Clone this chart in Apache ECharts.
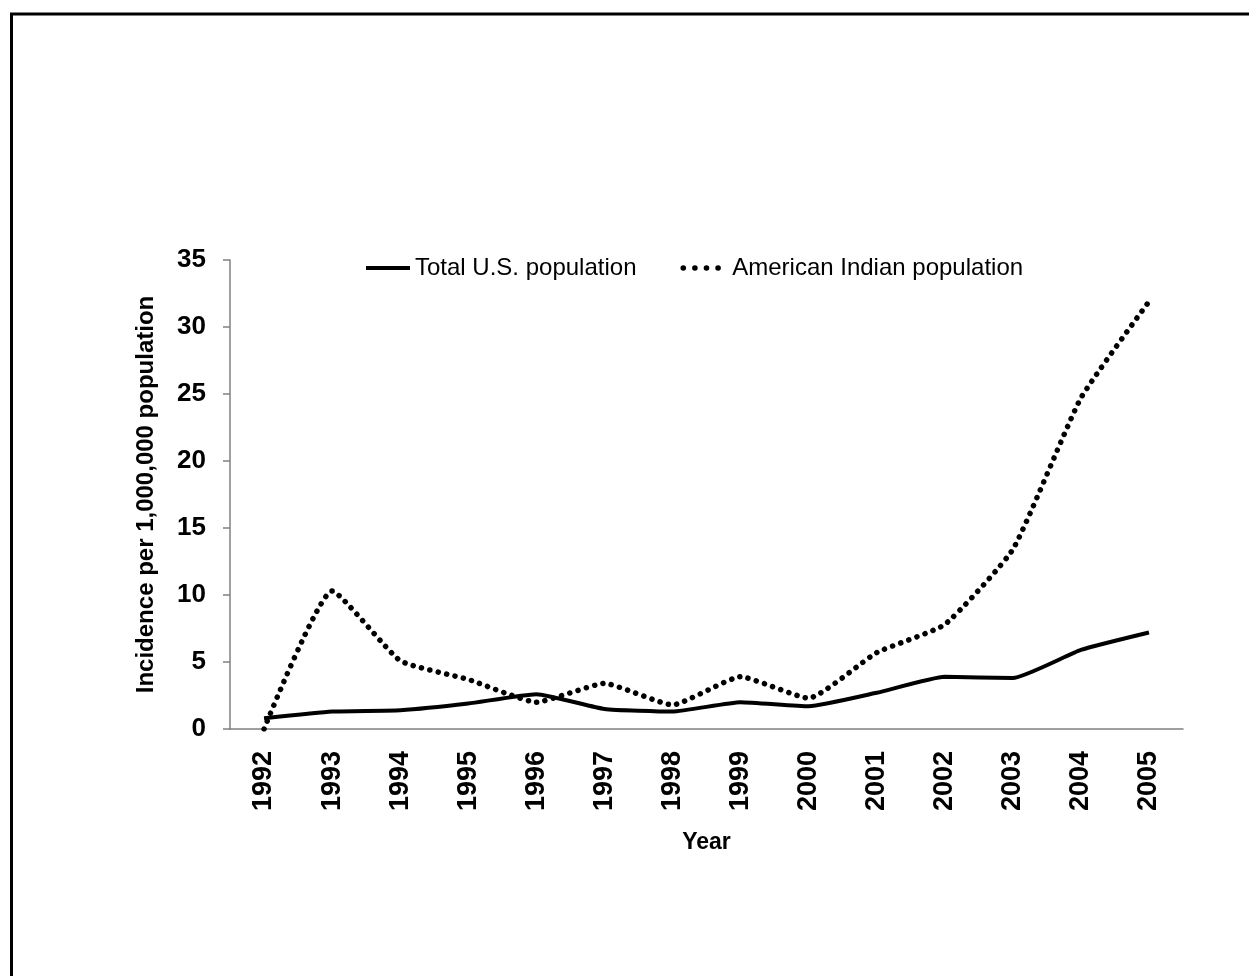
<!DOCTYPE html>
<html>
<head>
<meta charset="utf-8">
<script src="https://cdn.jsdelivr.net/npm/echarts@6/dist/echarts.min.js"></script>
<style>
html,body{margin:0;padding:0;background:#fff;}
#main{width:1249px;height:976px;}
</style>
</head>
<body>
<div id="main"></div>
<script>
var years = ['1992','1993','1994','1995','1996','1997','1998','1999','2000','2001','2002','2003','2004','2005'];
var totalUS = [0.8, 1.3, 1.4, 1.9, 2.6, 1.5, 1.3, 2.0, 1.7, 2.7, 3.9, 3.8, 5.9, 7.2];
var americanIndian = [0, 10.3, 5.1, 3.7, 2.0, 3.4, 1.8, 3.9, 2.3, 5.7, 7.8, 13.4, 24.7, 31.9];
var yTicks = [0, 5, 10, 15, 20, 25, 30, 35];

var chart = echarts.init(document.getElementById('main'), null, {renderer: 'canvas'});
var fontFam = '"Liberation Sans", Arial, sans-serif';
chart.setOption({
  backgroundColor: '#fff',
  animation: false,
  graphic: [
    {type: 'line', shape: {x1: 10, y1: 14, x2: 1249, y2: 14}, style: {stroke: '#000', lineWidth: 3}},
    {type: 'line', shape: {x1: 11.5, y1: 13, x2: 11.5, y2: 976}, style: {stroke: '#000', lineWidth: 3}}
  ],
  legend: {
    top: 251,
    left: 359,
    itemGap: 44,
    itemWidth: 44,
    itemHeight: 14,
    itemStyle: {opacity: 0, borderWidth: 0},
    textStyle: {fontFamily: fontFam, fontSize: 24, color: '#000'},
    data: [
      {name: 'Total U.S. population', lineStyle: {width: 4, color: '#000'}},
      {name: 'American Indian population', lineStyle: {width: 5.5, color: '#000', type: [0.1, 11.5], cap: 'round'}}
    ]
  },
  grid: {left: 230, right: 66, top: 260, bottom: 247, containLabel: false},
  xAxis: {
    type: 'category',
    data: years,
    boundaryGap: true,
    name: 'Year',
    nameLocation: 'middle',
    nameGap: 102,
    nameTextStyle: {fontFamily: fontFam, fontSize: 23, fontWeight: 'bold', color: '#000'},
    axisLine: {lineStyle: {color: '#808080', width: 1.5}},
    axisTick: {alignWithLabel: false, length: 9, lineStyle: {color: '#808080', width: 1.5}},
    axisLabel: {rotate: 90, margin: 22, fontFamily: fontFam, fontSize: 27, fontWeight: 'bold', color: '#000'},
    splitLine: {show: false}
  },
  yAxis: {
    type: 'value',
    min: 0,
    max: 35,
    interval: 5,
    name: 'Incidence per 1,000,000 population',
    nameLocation: 'middle',
    nameGap: 72,
    nameTextStyle: {fontFamily: fontFam, fontSize: 24, fontWeight: 'bold', color: '#000'},
    axisLine: {show: true, lineStyle: {color: '#808080', width: 1.5}},
    axisTick: {show: true, length: 7, lineStyle: {color: '#808080', width: 1.5}},
    axisLabel: {margin: 24, fontFamily: fontFam, fontSize: 26, fontWeight: 'bold', color: '#000',
      formatter: function (v) { return yTicks.indexOf(v) >= 0 ? String(v) : ''; }},
    splitLine: {show: false}
  },
  series: [
    {
      name: 'Total U.S. population',
      type: 'line',
      data: totalUS,
      symbol: 'none',
      smooth: 0.15,
      color: '#000',
      lineStyle: {color: '#000', width: 4}
    },
    {
      name: 'American Indian population',
      type: 'line',
      data: americanIndian,
      symbol: 'none',
      smooth: 0.15,
      color: '#000',
      lineStyle: {color: '#000', width: 5.5, type: [0.1, 8.5], cap: 'round'}
    }
  ]
});
</script>
</body>
</html>
